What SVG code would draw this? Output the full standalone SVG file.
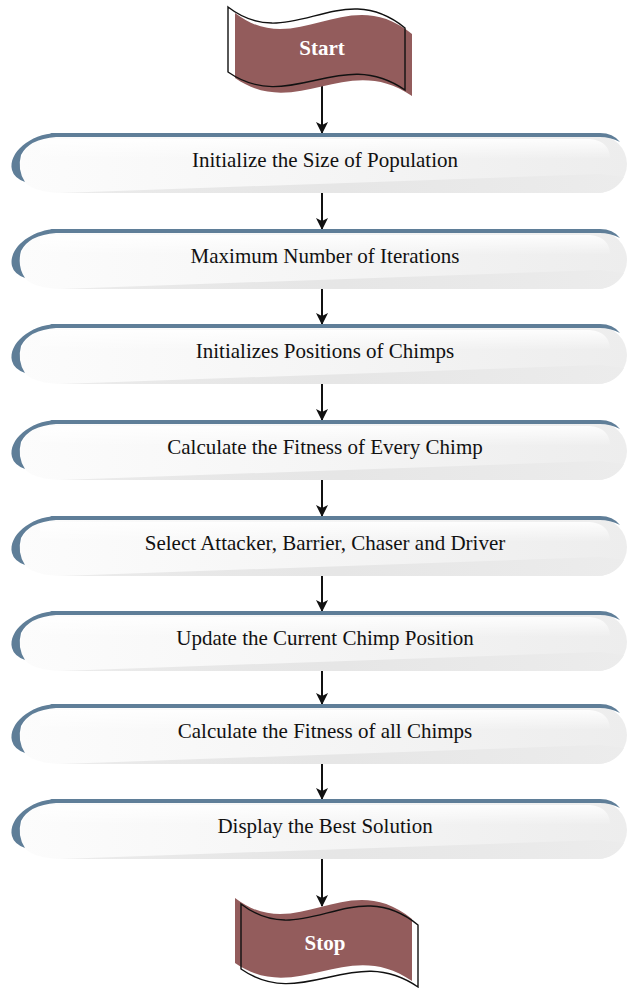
<svg xmlns="http://www.w3.org/2000/svg" xmlns:xlink="http://www.w3.org/1999/xlink" width="631" height="988" viewBox="0 0 631 988">
<style>
.lbl{font-family:"Liberation Serif","Times New Roman",serif;font-size:21px;fill:#111;text-anchor:middle}
.term{font-family:"Liberation Serif","Times New Roman",serif;font-size:21px;font-weight:bold;fill:#fff;text-anchor:middle}
.conn{stroke:#111;stroke-width:2;fill:none}
.band{fill:#5f7e98}
.tapeback{fill:#fff}
.tapeface{fill:#935c5c}
.tapeline{fill:none;stroke:#111;stroke-width:1.4}
</style>
<defs>
<linearGradient id="bodyg" x1="0" y1="0" x2="1" y2="0">
<stop offset="0" stop-color="#fcfcfc"/>
<stop offset="0.5" stop-color="#f5f5f5"/>
<stop offset="1" stop-color="#ededed"/>
</linearGradient>
<linearGradient id="wedgeg" x1="0" y1="0" x2="1" y2="0">
<stop offset="0" stop-color="#e2e2e2" stop-opacity="0.6"/>
<stop offset="0.5" stop-color="#e6e6e6"/>
<stop offset="1" stop-color="#ececec"/>
</linearGradient>
<linearGradient id="hlg" x1="0" y1="0" x2="0" y2="1">
<stop offset="0" stop-color="#ffffff" stop-opacity="0.9"/>
<stop offset="1" stop-color="#ffffff" stop-opacity="0"/>
</linearGradient>
<g id="box">
<path d="M50,2 H597 A30 29 0 0 1 627,31 A30 29 0 0 1 597,60 H60 C35,59 22,52 20,40 C18,22 30,4 50,2 Z" fill="url(#bodyg)"/>
<path d="M60,60 L598,60 A30 29 0 0 0 624,44 L600,41 Z" fill="url(#wedgeg)"/>
<path d="M40,6 H590 Q610,8 610,26 H40 Z" fill="url(#hlg)"/>
<path class="band" d="M50,0 H600 Q613,0 620,9 Q610,4 600,4 H56 Z"/>
<path class="band" d="M56,0 C30,1 8,20 12,37 Q14,45 25,49 Q17,37 21,22 Q29,6 56,4 Z"/>
</g>
<path id="tape" d="M0,0 C62,48 112,-32 177,21 L177,83 C112,38 62,108 0,65 Z"/>
<marker id="ah" markerWidth="12" markerHeight="12" refX="11" refY="6" orient="auto" markerUnits="userSpaceOnUse">
<path d="M0,0 L12,6 L0,12 L3,6 Z" fill="#111"/>
</marker>
</defs>

<g id="connectors">
<line class="conn" x1="322" y1="86" x2="322" y2="133" marker-end="url(#ah)"/>
<line class="conn" x1="322" y1="193" x2="322" y2="229" marker-end="url(#ah)"/>
<line class="conn" x1="322" y1="289" x2="322" y2="324" marker-end="url(#ah)"/>
<line class="conn" x1="322" y1="384" x2="322" y2="420" marker-end="url(#ah)"/>
<line class="conn" x1="322" y1="480" x2="322" y2="516" marker-end="url(#ah)"/>
<line class="conn" x1="322" y1="576" x2="322" y2="611" marker-end="url(#ah)"/>
<line class="conn" x1="322" y1="671" x2="322" y2="704" marker-end="url(#ah)"/>
<line class="conn" x1="322" y1="764" x2="322" y2="799" marker-end="url(#ah)"/>
<line class="conn" x1="322" y1="859" x2="322" y2="906" marker-end="url(#ah)"/>
</g>

<g id="start">
<use href="#tape" class="tapeback" transform="translate(228,7)"/>
<use href="#tape" class="tapeface" transform="translate(235,13)"/>
<use href="#tape" class="tapeline" transform="translate(228,7)"/>
<text class="term" x="322" y="55">Start</text>
</g>

<g id="n1"><use href="#box" transform="translate(0,133)"/><text class="lbl" x="325" y="167">Initialize the Size of Population</text></g>
<g id="n2"><use href="#box" transform="translate(0,229)"/><text class="lbl" x="325" y="263">Maximum Number of Iterations</text></g>
<g id="n3"><use href="#box" transform="translate(0,324)"/><text class="lbl" x="325" y="358">Initializes Positions of Chimps</text></g>
<g id="n4"><use href="#box" transform="translate(0,420)"/><text class="lbl" x="325" y="454">Calculate the Fitness of Every Chimp</text></g>
<g id="n5"><use href="#box" transform="translate(0,516)"/><text class="lbl" x="325" y="550">Select Attacker, Barrier, Chaser and Driver</text></g>
<g id="n6"><use href="#box" transform="translate(0,611)"/><text class="lbl" x="325" y="645">Update the Current Chimp Position</text></g>
<g id="n7"><use href="#box" transform="translate(0,704)"/><text class="lbl" x="325" y="738">Calculate the Fitness of all Chimps</text></g>
<g id="n8"><use href="#box" transform="translate(0,799)"/><text class="lbl" x="325" y="833">Display the Best Solution</text></g>

<g id="stop">
<use href="#tape" class="tapeback" transform="translate(241,904)"/>
<use href="#tape" class="tapeface" transform="translate(235,898)"/>
<use href="#tape" class="tapeline" transform="translate(241,904)"/>
<text class="term" x="325" y="950">Stop</text>
</g>
</svg>
